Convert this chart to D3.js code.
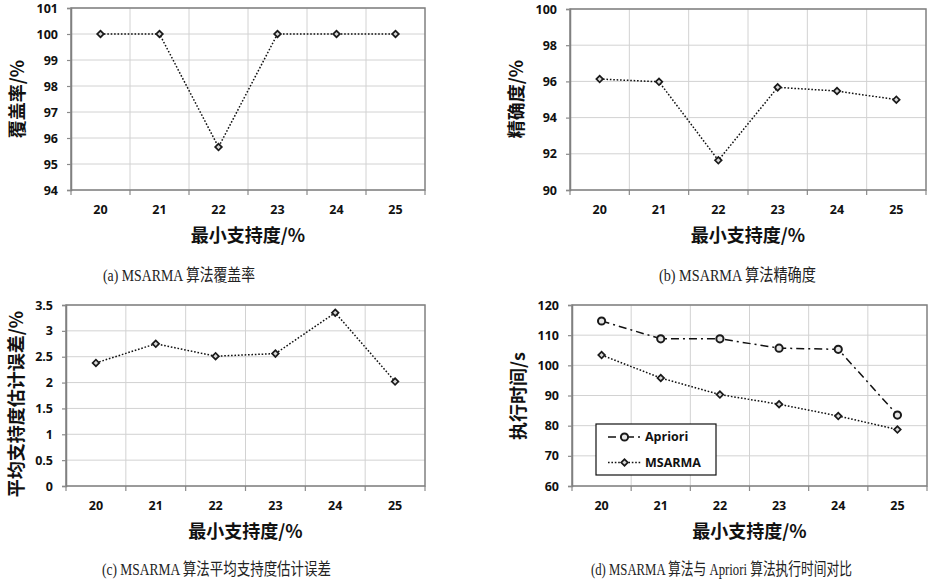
<!DOCTYPE html>
<html>
<head>
<meta charset="utf-8">
<script src="https://cdn.jsdelivr.net/npm/d3@7"></script>
<style>
  body { margin: 0; background: #fff; }
  svg { display: block; }
</style>
</head>
<body>
<div id="chart"></div>
<script>
// Data
var supports = [20, 21, 22, 23, 24, 25];
var coverage = [100, 100, 95.65, 100, 100, 100];
var precision = [96.13, 95.98, 91.64, 95.67, 95.47, 94.99];
var supportErr = [2.38, 2.75, 2.51, 2.56, 3.35, 2.02];
var aprioriTime = [114.7, 108.8, 108.8, 105.7, 105.3, 83.5];
var msarmaTime = [103.4, 95.8, 90.3, 87.1, 83.2, 78.7];

var ticksA = [94, 95, 96, 97, 98, 99, 100, 101];
var ticksB = [90, 92, 94, 96, 98, 100];
var ticksC = [0, 0.5, 1, 1.5, 2, 2.5, 3, 3.5];
var ticksD = [60, 70, 80, 90, 100, 110, 120];

var xTitle = "最小支持度/%";
var captions = [
  "(a) MSARMA 算法覆盖率",
  "(b) MSARMA 算法精确度",
  "(c) MSARMA 算法平均支持度估计误差",
  "(d) MSARMA 算法与 Apriori 算法执行时间对比"
];

var W = 946, H = 587;
var svg = d3.select("#chart").append("svg")
    .attr("width", W)
    .attr("height", H);

var tickFont = "'Open Sans', 'Liberation Sans', sans-serif";
var cjkFont = "'Noto Sans CJK SC', sans-serif";

// Draw one panel frame: grid, axes, titles. Returns scales.
function drawPanel(p) {
  var g = svg.append("g");

  var x = d3.scaleBand()
      .domain(supports)
      .range([p.left, p.right]);
  var y = d3.scaleLinear()
      .domain([p.ticks[0], p.ticks[p.ticks.length - 1]])
      .range([p.bottom, p.top]);

  // horizontal grid
  g.selectAll(".hgrid")
    .data(p.ticks)
    .enter().append("line")
      .attr("x1", p.left).attr("x2", p.right)
      .attr("y1", d => y(d)).attr("y2", d => y(d))
      .attr("stroke", "#d2d2d2")
      .attr("stroke-width", 1);

  // vertical grid at category boundaries
  var edges = supports.map(d => x(d)).concat([p.right]);
  g.selectAll(".vgrid")
    .data(edges.slice(1, -1))
    .enter().append("line")
      .attr("x1", d => d).attr("x2", d => d)
      .attr("y1", p.top).attr("y2", p.bottom)
      .attr("stroke", "#d2d2d2")
      .attr("stroke-width", 1);

  // boundary tick marks below x axis
  g.selectAll(".xtick")
    .data(edges)
    .enter().append("line")
      .attr("x1", d => d).attr("x2", d => d)
      .attr("y1", p.bottom).attr("y2", p.bottom + 5)
      .attr("stroke", "#8a8a8a")
      .attr("stroke-width", 1.2);

  // plot border
  g.append("rect")
    .attr("x", p.left).attr("y", p.top)
    .attr("width", p.right - p.left)
    .attr("height", p.bottom - p.top)
    .attr("fill", "none")
    .attr("stroke", "#808080")
    .attr("stroke-width", 1.5);

  // y axis
  var yAxis = g.append("g")
    .attr("transform", "translate(" + p.left + ",0)")
    .call(d3.axisLeft(y).tickValues(p.ticks).tickSize(4).tickPadding(9)
      .tickFormat(d => String(d)));
  yAxis.select(".domain").attr("stroke", "#808080").attr("stroke-width", 1.5);
  yAxis.selectAll(".tick line").attr("stroke", "#8a8a8a").attr("stroke-width", 1.2);
  yAxis.selectAll("text")
    .style("font-family", tickFont)
    .style("font-weight", "bold")
    .style("font-size", "12.5px")
    .attr("fill", "#111");

  // x axis labels
  var xAxis = g.append("g")
    .attr("transform", "translate(0," + p.bottom + ")")
    .call(d3.axisBottom(x).tickSize(0).tickPadding(15));
  xAxis.select(".domain").remove();
  xAxis.selectAll("text")
    .style("font-family", tickFont)
    .style("font-weight", "bold")
    .style("font-size", "12.5px")
    .attr("fill", "#111");

  // axis titles
  g.append("text")
    .attr("x", (p.left + p.right) / 2)
    .attr("y", p.bottom + 46)
    .attr("dy", "0.35em")
    .attr("text-anchor", "middle")
    .style("font-family", cjkFont)
    .style("font-weight", "bold")
    .style("font-size", "18px")
    .attr("fill", "#111")
    .text(xTitle);

  g.append("text")
    .attr("transform", "translate(" + p.ytx + "," + p.yty + ") rotate(-90)")
    .attr("dy", "0.35em")
    .attr("text-anchor", "middle")
    .style("font-family", cjkFont)
    .style("font-weight", "bold")
    .style("font-size", "18px")
    .attr("fill", "#111")
    .text(p.yTitle);

  return {g: g, x: x, y: y};
}

function drawSeries(panel, values, dash, marker) {
  var cx = d => panel.x(d) + panel.x.bandwidth() / 2;
  var pts = supports.map((s, i) => [cx(s), panel.y(values[i])]);
  panel.g.append("path")
    .datum(pts)
    .attr("d", d3.line())
    .attr("fill", "none")
    .attr("stroke", "#111")
    .attr("stroke-width", 1.5)
    .attr("stroke-dasharray", dash);
  drawMarkers(panel.g, pts, marker);
}

function drawMarkers(g, pts, marker) {
  if (marker === "circle") {
    g.selectAll(null)
      .data(pts)
      .enter().append("circle")
        .attr("cx", d => d[0]).attr("cy", d => d[1])
        .attr("r", 3.6)
        .attr("fill", "#e6e6e6")
        .attr("stroke", "#1a1a1a")
        .attr("stroke-width", 2);
  } else {
    g.selectAll(null)
      .data(pts)
      .enter().append("path")
        .attr("d", d3.symbol(d3.symbolSquare, 22)())
        .attr("transform", d => "translate(" + d[0] + "," + d[1] + ") rotate(45)")
        .attr("fill", "#d8d8d8")
        .attr("stroke", "#1a1a1a")
        .attr("stroke-width", 1.7);
  }
}

var dotted = "1.6,1.8";
var dashDot = "8,4,2,4";

// (a)
var pa = drawPanel({left: 71, right: 425, top: 8, bottom: 190, ticks: ticksA,
  yTitle: "覆盖率/%", ytx: 18, yty: 99});
drawSeries(pa, coverage, dotted, "diamond");

// (b)
var pb = drawPanel({left: 570, right: 926, top: 9, bottom: 190, ticks: ticksB,
  yTitle: "精确度/%", ytx: 517, yty: 99});
drawSeries(pb, precision, dotted, "diamond");

// (c)
var pc = drawPanel({left: 66, right: 425, top: 305, bottom: 486, ticks: ticksC,
  yTitle: "平均支持度估计误差/%", ytx: 17, yty: 404});
drawSeries(pc, supportErr, dotted, "diamond");

// (d)
var pd = drawPanel({left: 572, right: 927, top: 305, bottom: 486, ticks: ticksD,
  yTitle: "执行时间/s", ytx: 519, yty: 396});
drawSeries(pd, aprioriTime, dashDot, "circle");
drawSeries(pd, msarmaTime, dotted, "diamond");

// legend for (d)
var legend = [
  {name: "Apriori", dash: dashDot, marker: "circle"},
  {name: "MSARMA", dash: dotted, marker: "diamond"}
];
var lg = svg.append("g");
lg.append("rect")
  .attr("x", 596).attr("y", 424)
  .attr("width", 120).attr("height", 51)
  .attr("fill", "#fff")
  .attr("stroke", "#111")
  .attr("stroke-width", 1.2);
legend.forEach(function(d, i) {
  var ly = 437 + i * 25.5;
  lg.append("line")
    .attr("x1", 608).attr("x2", 641)
    .attr("y1", ly).attr("y2", ly)
    .attr("stroke", "#111")
    .attr("stroke-width", 1.5)
    .attr("stroke-dasharray", d.dash);
  drawMarkers(lg, [[624.5, ly]], d.marker);
  lg.append("text")
    .attr("x", 645).attr("y", ly)
    .attr("dy", "0.35em")
    .style("font-family", tickFont)
    .style("font-weight", "bold")
    .style("font-size", "12.5px")
    .attr("fill", "#111")
    .text(d.name);
});

// captions
var capPos = [[103, 275, 152], [659, 275, 157], [102, 569, 229], [591, 569, 261]];
captions.forEach(function(c, i) {
  svg.append("text")
    .attr("x", capPos[i][0]).attr("y", capPos[i][1])
    .attr("dy", "0.35em")
    .attr("textLength", capPos[i][2])
    .attr("lengthAdjust", "spacingAndGlyphs")
    .style("font-family", "'Liberation Serif', 'Noto Sans CJK SC', serif")
    .style("font-size", "16.5px")
    .attr("fill", "#222")
    .text(c);
});
</script>
</body>
</html>
